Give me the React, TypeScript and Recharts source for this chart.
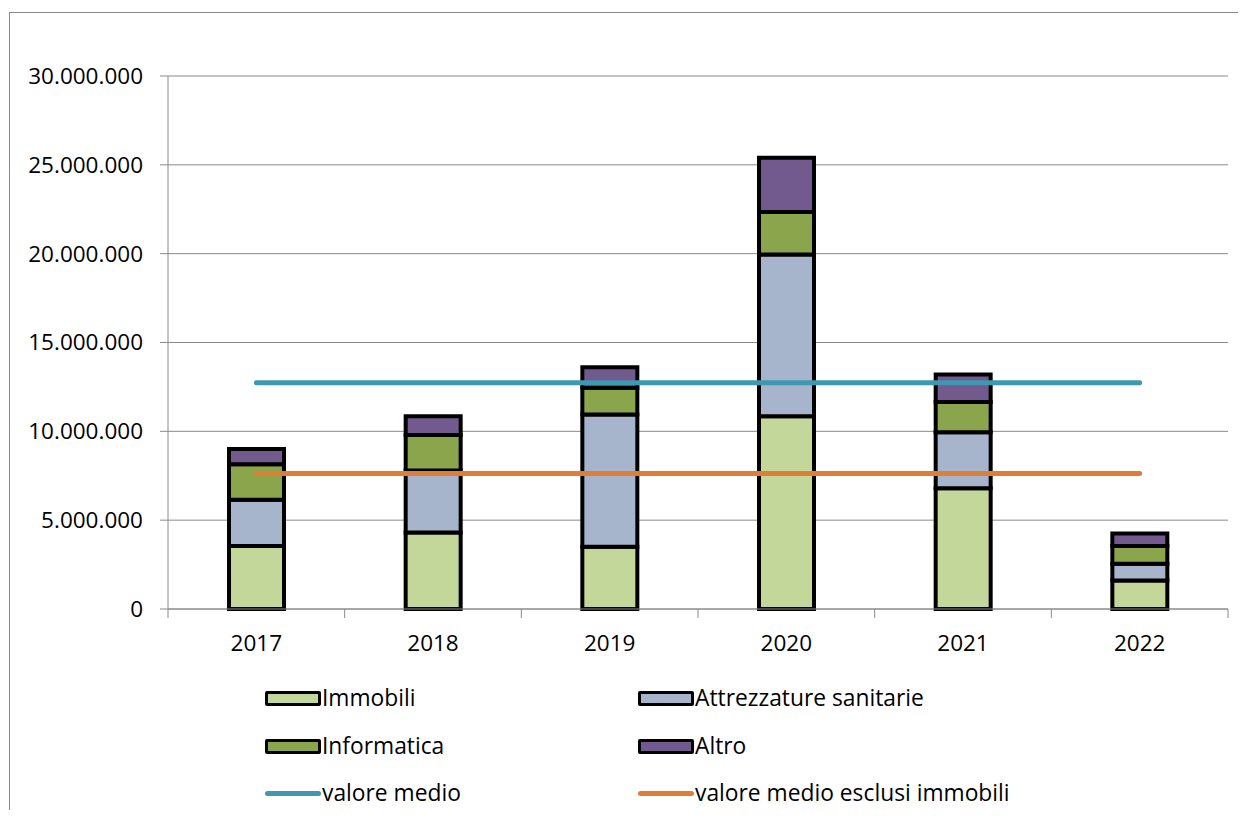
import React from "react"
import {
  ComposedChart,
  Bar,
  Line,
  XAxis,
  YAxis,
  CartesianGrid,
} from "recharts"

const years = ["2017", "2018", "2019", "2020", "2021", "2022"]
const immobili = [3550000, 4300000, 3500000, 10850000, 6800000, 1600000]
const attrezzature = [2600000, 3500000, 7450000, 9100000, 3150000, 950000]
const informatica = [2000000, 2000000, 1500000, 2400000, 1700000, 1000000]
const altro = [850000, 1050000, 1150000, 3050000, 1550000, 700000]
const valoreMedio = [12730000, 12730000, 12730000, 12730000, 12730000, 12730000]
const valoreMedioEsclusi = [7630000, 7630000, 7630000, 7630000, 7630000, 7630000]
const yTicks = [0, 5000000, 10000000, 15000000, 20000000, 25000000, 30000000]

const data = years.map((year, i) => ({
  year,
  immobili: immobili[i],
  attrezzature: attrezzature[i],
  informatica: informatica[i],
  altro: altro[i],
  medio: valoreMedio[i],
  medioEsclusi: valoreMedioEsclusi[i],
}))

const FONT = "'Open Sans', Lato, sans-serif"
const FS = 22.5
const GRID = "#8a8a8a"

const fmt = (v: number) => String(v).replace(/\B(?=(\d{3})+(?!\d))/g, ".")

const BAND = (1220 - 160) / 6

function YearTick(props: any) {
  const { x, y, payload, index } = props
  return (
    <g>
      <line x1={x + BAND / 2} x2={x + BAND / 2} y1={y} y2={y + 9} stroke={GRID} strokeWidth={1} />
      {index === 0 && (
        <line x1={x - BAND / 2} x2={x - BAND / 2} y1={y} y2={y + 9} stroke={GRID} strokeWidth={1} />
      )}
      <text x={x} y={y + 42} textAnchor="middle" fontSize={FS} fontFamily={FONT} fill="#000">
        {payload.value}
      </text>
    </g>
  )
}

const legendItems = [
  { label: "Immobili", color: "#c4d79b", kind: "bar" },
  { label: "Attrezzature sanitarie", color: "#a6b5cb", kind: "bar" },
  { label: "Informatica", color: "#8ba54c", kind: "bar" },
  { label: "Altro", color: "#725a8e", kind: "bar" },
  { label: "valore medio", color: "#3f98b0", kind: "line" },
  { label: "valore medio esclusi immobili", color: "#dd7f36", kind: "line" },
]

function ChartLegend() {
  return (
    <div
      style={{
        position: "absolute",
        left: 257,
        top: 667,
        display: "grid",
        gridTemplateColumns: "373px 440px",
        fontFamily: FONT,
        fontSize: 22.8,
        color: "#000",
      }}
    >
      {legendItems.map((it) => (
        <div key={it.label} style={{ display: "flex", alignItems: "center", height: 47.5 }}>
          {it.kind === "bar" ? (
            <span
              style={{
                display: "inline-block",
                width: 50,
                height: 9,
                background: it.color,
                border: "3px solid #000",
                borderRadius: 2,
              }}
            />
          ) : (
            <span
              style={{
                display: "inline-block",
                width: 56,
                height: 5,
                background: it.color,
                borderRadius: 3,
              }}
            />
          )}
          <span style={{ marginLeft: 1, lineHeight: 1 }}>{it.label}</span>
        </div>
      ))}
    </div>
  )
}

export default function App() {
  return (
    <div style={{ position: "relative", width: 1230, height: 802, overflow: "hidden", background: "#fff" }}>
      <div
        style={{
          position: "absolute",
          left: 1,
          top: 4,
          width: 1400,
          height: 1000,
          borderLeft: "1.5px solid #8a8a8a",
          borderTop: "1.5px solid #8a8a8a",
        }}
      />
      <ComposedChart
        width={1230}
        height={802}
        data={data}
        margin={{ top: 68, right: 10, bottom: 171, left: 0 }}
        barCategoryGap={0}
      >
        <CartesianGrid vertical={false} stroke={GRID} strokeWidth={1} />
        <XAxis
          dataKey="year"
          height={30}
          axisLine={{ stroke: GRID }}
          tickLine={false}
          tickSize={0}
          tickMargin={0}
          tick={<YearTick />}
          interval={0}
        />
        <YAxis
          width={160}
          domain={[0, 30000000]}
          ticks={yTicks}
          tickFormatter={fmt}
          axisLine={{ stroke: GRID }}
          tickLine={{ stroke: GRID }}
          tickSize={8}
          tickMargin={17}
          tick={{ fill: "#000", fontSize: FS, fontFamily: FONT }}
          interval={0}
        />
        <Bar dataKey="immobili" name="Immobili" stackId="a" fill="#c4d79b" stroke="#000" strokeWidth={4} barSize={55} isAnimationActive={false} />
        <Bar dataKey="attrezzature" name="Attrezzature sanitarie" stackId="a" fill="#a6b5cb" stroke="#000" strokeWidth={4} barSize={55} isAnimationActive={false} />
        <Bar dataKey="informatica" name="Informatica" stackId="a" fill="#8ba54c" stroke="#000" strokeWidth={4} barSize={55} isAnimationActive={false} />
        <Bar dataKey="altro" name="Altro" stackId="a" fill="#725a8e" stroke="#000" strokeWidth={4} barSize={55} isAnimationActive={false} />
        <Line dataKey="medio" name="valore medio" stroke="#3f98b0" strokeWidth={5} strokeLinecap="round" dot={false} activeDot={false} isAnimationActive={false} />
        <Line dataKey="medioEsclusi" name="valore medio esclusi immobili" stroke="#dd7f36" strokeWidth={5} strokeLinecap="round" dot={false} activeDot={false} isAnimationActive={false} />
      </ComposedChart>
      <ChartLegend />
    </div>
  )
}
